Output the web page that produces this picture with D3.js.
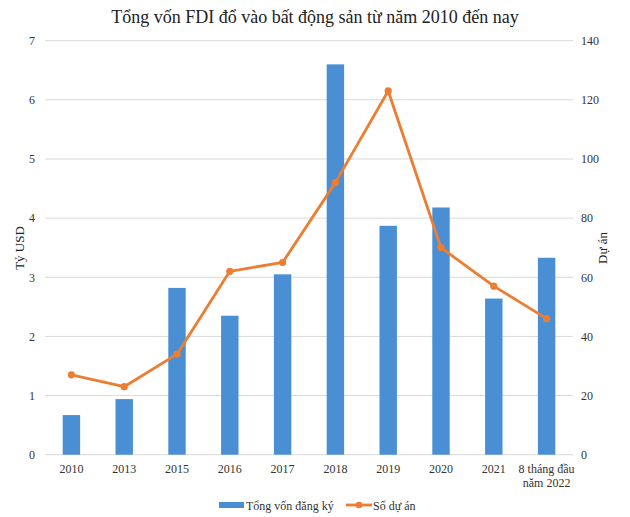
<!DOCTYPE html>
<html>
<head>
<meta charset="utf-8">
<script src="https://cdn.jsdelivr.net/npm/d3@7"></script>
<style>
  html, body { margin: 0; padding: 0; background: #fff; }
  svg { display: block; }
  svg text { font-family: "Liberation Serif", "Times New Roman", serif; }
</style>
</head>
<body>
<svg id="chart" width="630" height="517"></svg>
<script>
const categories = ["2010", "2013", "2015", "2016", "2017", "2018", "2019", "2020", "2021", "8 tháng đầu|năm 2022"];
const capital = [0.67, 0.94, 2.82, 2.35, 3.05, 6.6, 3.87, 4.18, 2.64, 3.33];
const projects = [27, 23, 34, 62, 65, 92, 123, 70, 57, 46];
const leftTicks = [0, 1, 2, 3, 4, 5, 6, 7];
const rightTicks = [0, 20, 40, 60, 80, 100, 120, 140];
const title = "Tổng vốn FDI đổ vào bất động sản từ năm 2010 đến nay";
const leftTitle = "Tỷ USD";
const rightTitle = "Dự án";
const seriesNames = ["Tổng vốn đăng ký", "Số dự án"];

const svg = d3.select("#chart");
const m = { left: 45, right: 573, top: 40.7, bottom: 454.7 };
const barColor = "#4a8fd4", lineColor = "#ed7d31", gridColor = "#d9d9d9", textColor = "#333";
const serif = "Liberation Serif";

const x = d3.scaleBand().domain(categories).range([m.left, m.right]).paddingInner(0.67).paddingOuter(0.335);
const yL = d3.scaleLinear().domain([0, 7]).range([m.bottom, m.top]);
const yR = d3.scaleLinear().domain([0, 140]).range([m.bottom, m.top]);

// title
svg.append("text").attr("x", 315).attr("y", 23).attr("text-anchor", "middle")
  .attr("font-size", 18).attr("fill", "#222").text(title);

// gridlines
svg.append("g").selectAll("line").data(leftTicks).join("line")
  .attr("x1", m.left).attr("x2", m.right)
  .attr("y1", d => yL(d)).attr("y2", d => yL(d))
  .attr("stroke", gridColor).attr("stroke-width", 1);

// left axis
const gL = svg.append("g").attr("transform", `translate(${m.left},0)`)
  .call(d3.axisLeft(yL).tickValues(leftTicks).tickFormat(d3.format("d")).tickSize(0).tickPadding(10))
  .attr("font-family", serif);
gL.select(".domain").remove();
gL.selectAll("text").attr("font-size", 12).attr("fill", textColor);

// right axis
const gR = svg.append("g").attr("transform", `translate(${m.right},0)`)
  .call(d3.axisRight(yR).tickValues(rightTicks).tickFormat(d3.format("d")).tickSize(0).tickPadding(8))
  .attr("font-family", serif);
gR.select(".domain").remove();
gR.selectAll("text").attr("font-size", 12).attr("fill", textColor);

// bottom axis
const gB = svg.append("g").attr("transform", `translate(0,${m.bottom})`)
  .call(d3.axisBottom(x).tickSize(0).tickPadding(10).tickFormat(""))
  .attr("font-family", serif);
gB.select(".domain").remove();
gB.selectAll(".tick").each(function(d) {
  const t = d3.select(this).select("text").attr("font-size", 12).attr("fill", textColor);
  const lines = d.split("|");
  lines.forEach((ln, i) => {
    t.append("tspan").attr("x", 0).attr("dy", i === 0 ? "0.71em" : "1.15em").text(ln);
  });
});

// axis titles
svg.append("text").attr("transform", `translate(24,248) rotate(-90)`).attr("text-anchor", "middle")
  .attr("font-size", 13).attr("fill", "#222").text(leftTitle);
svg.append("text").attr("transform", `translate(607,248) rotate(-90)`).attr("text-anchor", "middle")
  .attr("font-size", 13).attr("fill", "#222").text(rightTitle);

// bars
svg.append("g").selectAll("rect").data(capital).join("rect")
  .attr("x", (d, i) => x(categories[i]))
  .attr("width", x.bandwidth())
  .attr("y", d => yL(d))
  .attr("height", d => yL(0) - yL(d))
  .attr("fill", barColor);

// line
const cx = (d, i) => x(categories[i]) + x.bandwidth() / 2;
svg.append("path").datum(projects)
  .attr("d", d3.line().x(cx).y(d => yR(d)))
  .attr("fill", "none").attr("stroke", lineColor).attr("stroke-width", 2.8)
  .attr("stroke-linejoin", "round");
svg.append("g").selectAll("circle").data(projects).join("circle")
  .attr("cx", cx).attr("cy", d => yR(d)).attr("r", 3.6).attr("fill", lineColor);

// legend
const lg = svg.append("g");
lg.append("rect").attr("x", 219).attr("y", 502).attr("width", 25).attr("height", 6).attr("fill", barColor);
lg.append("text").attr("x", 246).attr("y", 509.5).attr("font-size", 12).attr("fill", textColor).text(seriesNames[0]);
lg.append("line").attr("x1", 346).attr("x2", 372).attr("y1", 505).attr("y2", 505)
  .attr("stroke", lineColor).attr("stroke-width", 2.8);
lg.append("circle").attr("cx", 359).attr("cy", 505).attr("r", 3.3).attr("fill", lineColor);
lg.append("text").attr("x", 373).attr("y", 509.5).attr("font-size", 12).attr("fill", textColor).text(seriesNames[1]);
</script>
</body>
</html>
